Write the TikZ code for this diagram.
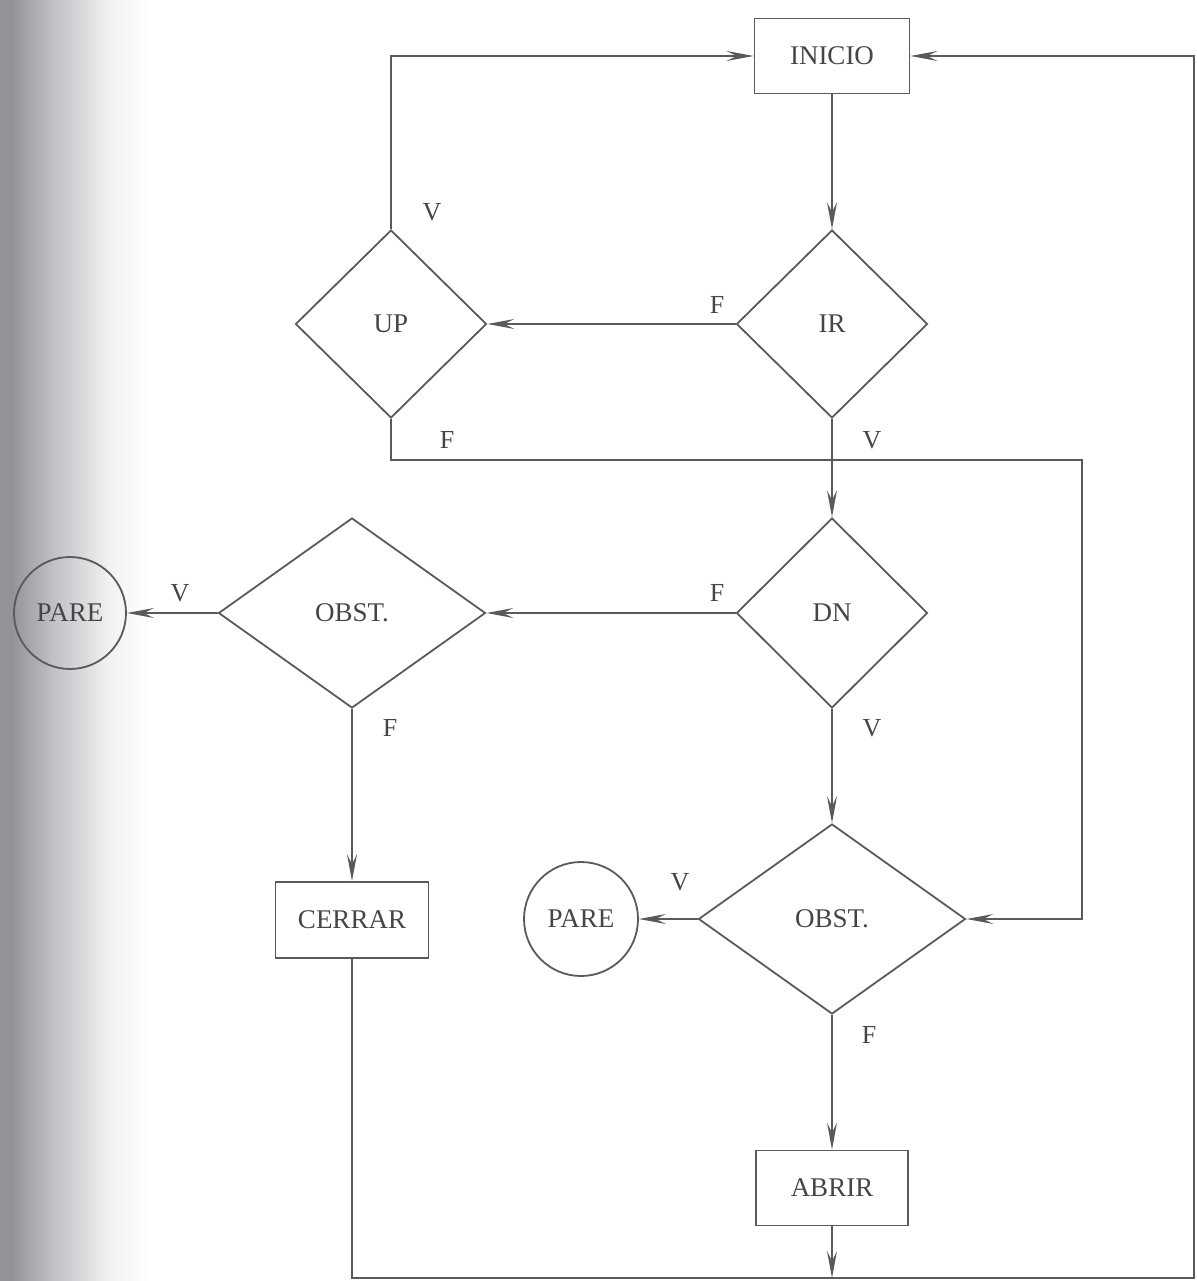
\documentclass[tikz,border=0pt]{standalone}
\usepackage{fontspec}
\setmainfont{Liberation Serif}
\usetikzlibrary{shapes.geometric,arrows.meta}
\definecolor{ink}{HTML}{5A5A5C}
\definecolor{txt}{HTML}{454548}
\definecolor{edgegray}{HTML}{939398}
\definecolor{edgemid}{HTML}{C2C2C7}
\definecolor{edgelight}{HTML}{F2F2F4}
\tikzset{
  every node/.style={font=\fontsize{27}{30}\selectfont, text=txt},
  flow/.style={draw=ink, line width=1.8pt},
  tip/.style={-{Stealth[length=27pt, width=10pt, inset=10pt]}},
  boxnode/.style={draw=ink, line width=1.8pt, rectangle, inner sep=0pt},
  decision/.style={draw=ink, line width=1.8pt, diamond, inner sep=0pt},
  stopnode/.style={draw=ink, line width=1.8pt, circle, inner sep=0pt, minimum size=112pt},
  lbl/.style={inner sep=0pt, font=\fontsize{26}{28}\selectfont}
}
\begin{document}
\begin{tikzpicture}[x=1pt, y=-1pt]
  \useasboundingbox (0,0) rectangle (1196,1281);
  % darkened page edge on the left, fading into the paper
  \fill[edgegray] (0,0) rectangle (12,1281);
  \shade[left color=edgegray, right color=edgemid] (12,0) rectangle (55,1281);
  \shade[left color=edgemid, right color=edgelight] (55,0) rectangle (110,1281);
  \shade[left color=edgelight, right color=white] (110,0) rectangle (150,1281);

  % process boxes
  \node[boxnode, minimum width=155pt, minimum height=75pt] (ini) at (832,56) {INICIO};
  \node[boxnode, minimum width=153pt, minimum height=76pt] (cerrar) at (352,920) {CERRAR};
  \node[boxnode, minimum width=152pt, minimum height=75pt] (abrir) at (832,1188) {ABRIR};

  % decisions
  \node[decision, minimum width=191pt, minimum height=188pt] (ir) at (832,324) {IR};
  \node[decision, minimum width=191pt, minimum height=188pt] (up) at (391,324) {UP};
  \node[decision, minimum width=191pt, minimum height=190pt] (dn) at (832,613) {DN};
  \node[decision, minimum width=267pt, minimum height=190pt] (ob1) at (352,613) {OBST.};
  \node[decision, minimum width=267pt, minimum height=190pt] (ob2) at (832,919) {OBST.};

  % stop circles
  \node[stopnode] (pare1) at (70,613) {PARE};
  \node[stopnode, minimum size=114pt] (pare2) at (581,919) {PARE};

  % routing points
  \coordinate (upjoin) at (1082,460);
  \coordinate (merge) at (832,1278);
  \coordinate (corner) at (1194,1278);

  % connectors
  \draw[flow, tip] (ini.south) -- (ir.north);
  \draw[flow, tip] (ir.west) -- (up.east);
  \draw[flow, tip] (up.north) |- (ini.west);
  \draw[flow, tip] (up.south) |- (upjoin) |- (ob2.east);
  \draw[flow, tip] (ir.south) -- (dn.north);
  \draw[flow, tip] (dn.west) -- (ob1.east);
  \draw[flow, tip] (ob1.west) -- (pare1.east);
  \draw[flow, tip] (ob1.south) -- (cerrar.north);
  \draw[flow, tip] (dn.south) -- (ob2.north);
  \draw[flow, tip] (ob2.west) -- (pare2.east);
  \draw[flow, tip] (ob2.south) -- (abrir.north);
  \draw[flow, tip] (abrir.south) -- (merge);
  \draw[flow, tip] (cerrar.south) |- (corner) |- (ini.east);

  % branch labels
  \node[lbl] (lv1) at (432,212) {V};
  \node[lbl] (lf1) at (717,305) {F};
  \node[lbl] (lf2) at (447,440) {F};
  \node[lbl] (lv2) at (872,440) {V};
  \node[lbl] (lv3) at (180,593) {V};
  \node[lbl] (lf3) at (717,593) {F};
  \node[lbl] (lf4) at (390,728) {F};
  \node[lbl] (lv4) at (872,728) {V};
  \node[lbl] (lv5) at (680,882) {V};
  \node[lbl] (lf5) at (869,1035) {F};
\end{tikzpicture}
\end{document}
